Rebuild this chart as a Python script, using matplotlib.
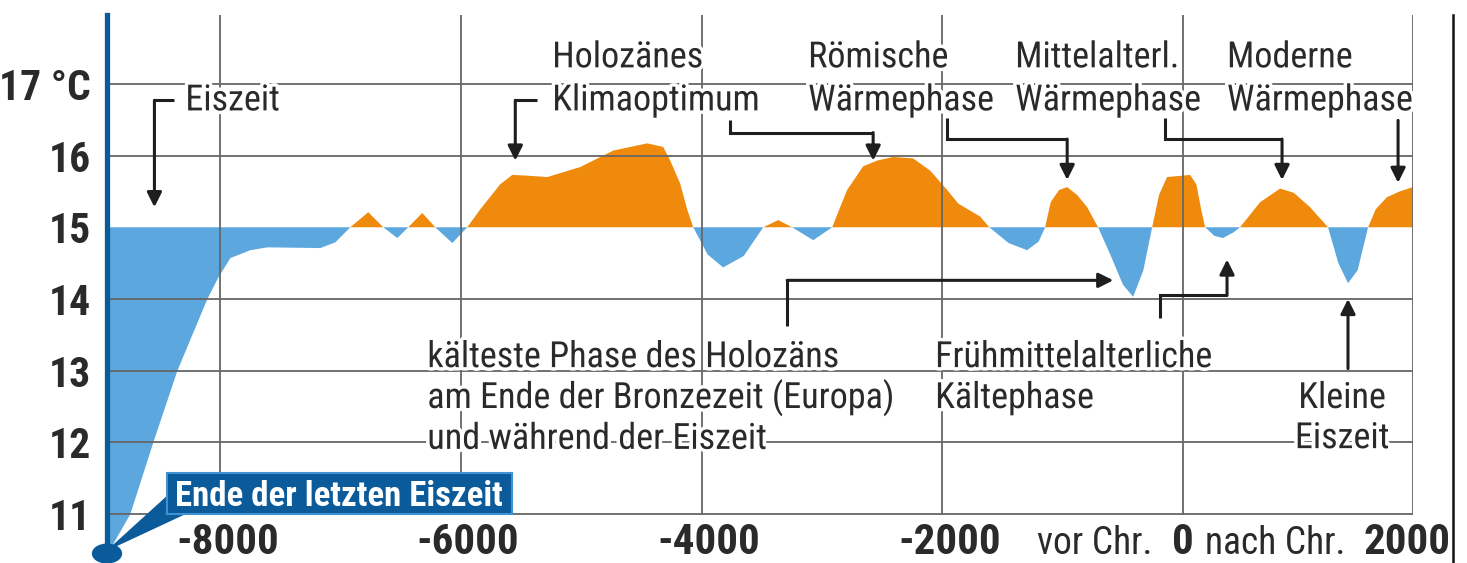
import numpy as np
import matplotlib
matplotlib.use("Agg")
import matplotlib.pyplot as plt
from matplotlib.patches import Rectangle, Polygon, Ellipse
from matplotlib.lines import Line2D
import matplotlib.patheffects as pe

plt.rcParams['font.family'] = ['Roboto Condensed', 'Archivo Narrow', 'DejaVu Sans']

# temperature curve (year, deg C)
years = [-8940, -8746, -8555, -8355, -8106, -8015, -7915, -7749, -7608, -7168,
         -7043, -6919, -6769, -6645, -6528, -6437, -6321, -6213, -6071, -5947,
         -5839, -5673, -5573, -5450, -5282, -5008, -4734, -4452, -4319, -4261,
         -4178, -4120, -4070, -3950, -3821, -3650, -3488, -3364, -3248, -3073,
         -2915, -2849, -2791, -2658, -2542, -2409, -2243, -2101, -1960, -1868,
         -1686, -1610, -1450, -1296, -1200, -1146, -1100, -1030, -963, -880,
         -797, -706, -600, -500, -415, -330, -257, -200, -133, 58,
         110, 150, 183, 260, 332, 420, 473, 640, 806, 920,
         1055, 1204, 1290, 1370, 1450, 1537, 1600, 1694, 1800, 1910]
temps = [10.43, 11.0, 12.0, 13.0, 14.0, 14.30, 14.57, 14.68, 14.72, 14.71,
         14.79, 15.0, 15.21, 15.0, 14.85, 15.0, 15.2, 15.0, 14.78, 15.0,
         15.25, 15.6, 15.73, 15.72, 15.70, 15.84, 16.07, 16.17, 16.12, 15.93,
         15.61, 15.25, 15.0, 14.62, 14.44, 14.6, 15.0, 15.1, 15.0, 14.82,
         15.0, 15.28, 15.52, 15.85, 15.93, 15.98, 15.96, 15.79, 15.52, 15.33,
         15.15, 15.0, 14.78, 14.68, 14.8, 15.0, 15.35, 15.52, 15.56, 15.45,
         15.28, 15.0, 14.6, 14.2, 14.03, 14.4, 15.0, 15.45, 15.70, 15.73,
         15.6, 15.25, 15.0, 14.88, 14.85, 14.93, 15.0, 15.35, 15.54, 15.48,
         15.28, 15.0, 14.5, 14.22, 14.4, 15.0, 15.25, 15.42, 15.5, 15.56]

mean_temp = 15
y_ticks = [11, 12, 13, 14, 15, 16, 17]
y_labels = ['11', '12', '13', '14', '15', '16', '17 °C']
x_ticks = [-8000, -6000, -4000, -2000]
x_labels = ['-8000', '-6000', '-4000', '-2000']

ORANGE = '#EF8A0C'
BLUE = '#5CA8DE'
DARK_BLUE = '#0B5A9A'
GRID = '#666666'
TXT = '#2a2a2a'
FS = 26

fig = plt.figure(figsize=(14.67, 5.63), dpi=100)
ax = fig.add_axes([107/1467, 8/563, 1306/1467, 540/563])
ax.set_xlim(-8940, 1910)
ax.set_ylim(10.43, 17.96)
ax.axis('off')

yrs = np.array(years)
tmp = np.array(temps)
ax.fill_between(yrs, tmp, mean_temp, where=tmp >= mean_temp, interpolate=True,
                color=ORANGE, lw=0, zorder=1)
ax.fill_between(yrs, tmp, mean_temp, where=tmp <= mean_temp, interpolate=True,
                color=BLUE, lw=0, zorder=1)

# grid
for yv in y_ticks:
    if yv == mean_temp:
        continue
    ax.axhline(yv, color=GRID, lw=1.3, zorder=2)
y0 = (11 - 10.43) / (17.96 - 10.43)
for xv in x_ticks + [0, 1910]:
    ax.axvline(xv, ymin=y0, ymax=1, color=GRID, lw=1.3, zorder=2)

# left axis line + dot
ax.axvline(-8940, color=DARK_BLUE, lw=3.8, zorder=5, clip_on=False)
ax.add_patch(Ellipse((-8940, 10.45), 240, 0.26, color=DARK_BLUE, zorder=6, clip_on=False))

stroke = [pe.withStroke(linewidth=5, foreground='white')]

for yv, lab in zip(y_ticks, y_labels):
    ax.text(-9075, yv, lab, ha='right', va='center_baseline', fontsize=30,
            fontweight='bold', color=TXT)

for xv, lab in zip(x_ticks, x_labels):
    ax.text(xv + 60, 10.45, lab, ha='center', va='baseline', fontsize=31,
            fontweight='bold', color=TXT)
ax.text(-731, 10.45, 'vor Chr.', ha='center', va='baseline', fontsize=27, color=TXT)
ax.text(0, 10.45, '0', ha='center', va='baseline', fontsize=31, fontweight='bold', color=TXT)
ax.text(764, 10.45, 'nach Chr.', ha='center', va='baseline', fontsize=27, color=TXT)
ax.text(2220, 10.45, '2000', ha='right', va='baseline', fontsize=31,
        fontweight='bold', color=TXT)


def label(x, y, lines, ha='left', step=0.6):
    for i, s in enumerate(lines):
        ax.text(x, y - i * step, s, ha=ha, va='baseline', fontsize=FS, color=TXT,
                zorder=4, path_effects=stroke)


def arrow(pts):
    xs = [p[0] for p in pts]
    ys = [p[1] for p in pts]
    ax.plot(xs[:-1], ys[:-1], color='#1e1e1e', lw=2.2, zorder=4,
            solid_joinstyle='miter', solid_capstyle='butt')
    ax.annotate('', xy=pts[-1], xytext=pts[-2],
                arrowprops=dict(arrowstyle='-|>', color='#1e1e1e', lw=2.2,
                                mutation_scale=22, shrinkA=0, shrinkB=0),
                zorder=4)


label(-8289, 16.63, ['Eiszeit'])
arrow([(-8380, 16.77), (-8546, 16.77), (-8546, 15.28)])

label(-5241, 17.23, ['Holozänes', 'Klimaoptimum'])
arrow([(-5365, 16.77), (-5548, 16.77), (-5548, 15.93)])

label(-3115, 17.23, ['Römische', 'Wärmephase'])
arrow([(-3762, 16.49), (-3762, 16.32), (-2575, 16.32), (-2575, 15.93)])

label(-1395, 17.23, ['Mittelalterl.', 'Wärmephase'])
arrow([(-1960, 16.53), (-1960, 16.23), (-963, 16.23), (-963, 15.66)])

label(365, 17.23, ['Moderne', 'Wärmephase'])
arrow([(-150, 16.53), (-150, 16.23), (822, 16.23), (822, 15.66)])
arrow([(1786, 16.49), (1786, 15.62)])

label(-6279, 13.05, ['kälteste Phase des Holozäns',
                     'am Ende der Bronzezeit (Europa)',
                     'und während der Eiszeit'], step=0.57)
arrow([(-3289, 13.63), (-3289, 14.26), (-580, 14.26)])

label(-2060, 13.05, ['Frühmittelalterliche', 'Kältephase'], step=0.57)
arrow([(-191, 13.74), (-191, 14.05), (365, 14.05), (365, 14.55)])

label(1321, 12.48, ['Kleine', 'Eiszeit'], ha='center', step=0.56)
arrow([(1370, 13.03), (1370, 14.0)])

# "Ende der letzten Eiszeit" box with pointer
ax.add_patch(Polygon([(-8915, 10.52), (-8430, 11.26), (-8289, 11.01)],
                     closed=True, color=DARK_BLUE, zorder=6, clip_on=False))
ax.add_patch(Rectangle((-8440, 11.0), 2867, 0.57, facecolor=DARK_BLUE,
                       edgecolor='#3f92d2', lw=1.5, zorder=6))
ax.text(-8372, 11.12, 'Ende der letzten Eiszeit', ha='left', va='baseline',
        fontsize=25, fontweight='bold', color='white', zorder=7)

# page border on the right
fig.add_artist(Line2D([1453/1467, 1453/1467], [0, 1 - 15/563], color='#111111', lw=1.8))

fig.savefig('out.png', dpi=100)
